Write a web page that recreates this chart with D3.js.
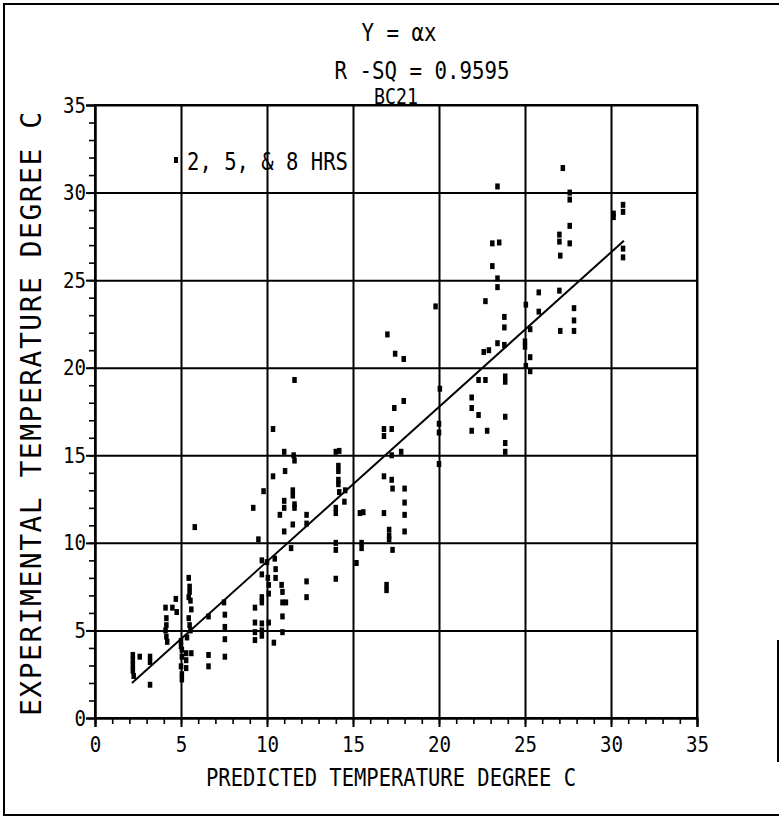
<!DOCTYPE html>
<html>
<head>
<meta charset="utf-8">
<script src="https://cdn.jsdelivr.net/npm/d3@7"></script>
<style>
  html, body { margin: 0; padding: 0; background: #fff; }
  svg { display: block; }
  text { font-family: "DejaVu Sans Mono", monospace; fill: #000; }
</style>
</head>
<body>
<svg id="chart" width="781" height="817"></svg>
<script>
// ---- data ----
const predicted = [
  2.2,2.2,2.2,2.2,2.25,2.6,3.2,3.2,3.2,
  4.1,4.15,4.15,4.1,4.15,4.2,4.5,4.7,4.75,
  5.0,5.0,5.05,5.05,5.0,5.05,5.05,5.3,5.3,5.3,5.35,5.45,5.5,5.5,5.45,5.55,5.6,5.45,5.5,5.55,5.6,5.8,
  6.6,6.6,6.6,7.5,7.55,7.55,7.55,7.55,
  9.2,9.5,9.8,9.3,9.3,9.3,9.3,9.7,9.7,9.7,9.7,9.7,9.7,9.7,10.0,10.05,10.1,10.1,10.1,10.35,10.35,10.45,10.5,10.5,10.4,10.85,10.9,10.9,10.9,10.9,11.1,10.75,
  11.0,11.05,11.0,11.0,11.0,11.55,11.6,11.5,11.5,11.6,11.6,11.5,11.4,11.6,12.3,12.3,12.3,12.3,
  14.0,14.2,14.15,14.15,14.15,14.15,14.2,14.55,14.5,14.0,14.0,14.0,14.0,14.0,15.4,15.6,15.5,15.5,15.2,
  16.8,16.8,17.25,17.25,17.8,16.8,17.25,17.3,18.0,18.0,18.0,16.8,18.0,17.1,17.1,17.1,17.3,16.95,16.95,17.0,17.45,17.95,17.4,17.95,
  19.8,20.05,20.0,20.0,20.0,
  21.9,21.9,22.3,21.9,22.8,22.3,22.7,22.6,22.9,22.7,23.1,23.1,23.5,23.4,23.4,23.4,23.4,23.8,23.8,23.8,23.85,23.85,23.85,23.85,23.85,
  25.05,25.0,25.0,25.05,25.3,25.3,25.3,25.8,25.8,
  27.2,27.6,27.6,27.6,27.0,27.0,27.6,27.05,27.0,27.05,27.85,27.85,27.85,
  30.15,30.15,30.7,30.7,30.7,30.7
];
const experimental = [
  3.6,3.3,3.0,2.7,2.4,3.5,3.5,3.2,1.9,
  6.3,5.7,5.3,5.0,4.65,4.35,6.3,6.8,6.05,
  4.4,4.1,3.9,3.5,2.95,2.5,2.2,3.7,3.3,2.85,4.6,8.0,7.5,7.2,6.9,6.7,6.2,5.7,5.3,5.0,3.7,10.9,
  5.8,3.6,2.95,6.6,5.9,5.2,4.5,3.5,
  12.0,10.2,12.95,6.3,5.45,4.9,4.45,9.0,8.2,6.9,6.6,5.4,5.0,4.7,8.9,8.0,7.6,7.1,5.45,16.5,13.8,9.1,8.5,8.0,4.3,7.6,7.2,6.6,5.8,4.9,6.6,11.6,
  15.2,14.1,12.4,12.0,10.65,15.0,14.7,13.0,12.7,12.2,12.0,11.05,9.7,19.3,11.6,11.1,7.8,6.9,
  15.2,15.25,14.4,14.1,13.6,13.35,12.9,13.0,12.35,12.0,11.7,10.0,9.6,7.95,11.7,11.75,10.0,9.7,8.85,
  16.5,16.1,16.5,15.0,15.2,13.8,13.6,13.1,13.1,12.3,11.6,11.7,10.65,10.75,10.4,10.2,9.6,7.6,7.3,21.9,20.8,20.5,17.7,18.1,
  23.5,18.8,16.8,16.3,14.5,
  18.3,17.7,17.3,16.4,16.4,19.3,19.3,20.9,21.0,23.8,25.8,27.1,27.15,30.35,25.1,24.6,21.4,22.9,22.3,21.3,19.5,19.2,17.2,15.7,15.2,
  23.6,21.5,21.2,20.1,22.2,20.6,19.8,24.3,23.2,
  31.4,30.0,29.6,28.1,27.6,27.2,27.1,26.4,24.4,22.1,23.4,22.7,22.1,
  28.8,28.6,29.3,28.9,26.8,26.3
];
const fitX = [2.15, 30.75];
const fitY = [2.0, 27.25];
const xTicks = [0, 5, 10, 15, 20, 25, 30, 35];
const yTicks = [0, 5, 10, 15, 20, 25, 30, 35];
const titleLines = ["Y = αx", "R -SQ = 0.9595", "BC21"];
const legendLabel = "2, 5, & 8 HRS";
const xTitle = "PREDICTED TEMPERATURE DEGREE C";
const yTitle = "EXPERIMENTAL TEMPERATURE DEGREE C";

// ---- layout ----
const svg = d3.select("#chart");
const L = 95, R = 697, T = 105, B = 718;
const x = d3.scaleLinear().domain([0, 35]).range([L, R]);
const y = d3.scaleLinear().domain([0, 35]).range([B, T]);

// outer frame
svg.append("path")
  .attr("d", "M4,816 L4,4 L779,4")
  .attr("fill", "none").attr("stroke", "#000").attr("stroke-width", 2);
svg.append("line").attr("x1", 4).attr("x2", 779).attr("y1", 815).attr("y2", 815)
  .attr("stroke", "#000").attr("stroke-width", 2);
svg.append("line").attr("x1", 778).attr("x2", 778).attr("y1", 640).attr("y2", 762)
  .attr("stroke", "#000").attr("stroke-width", 2);

// grid
const gridX = svg.append("g").attr("transform", `translate(0,${B})`)
  .call(d3.axisBottom(x).tickValues(xTicks).tickSize(-(B - T)).tickFormat(""));
const gridY = svg.append("g").attr("transform", `translate(${L},0)`)
  .call(d3.axisLeft(y).tickValues(yTicks).tickSize(-(R - L)).tickFormat(""));
[gridX, gridY].forEach(g => {
  g.select(".domain").remove();
  g.selectAll("line").attr("stroke", "#000").attr("stroke-width", 2);
});

// minor ticks
const minorVals = d3.range(0, 36, 1);
const mx = svg.append("g").attr("transform", `translate(0,${B})`)
  .call(d3.axisBottom(x).tickValues(minorVals).tickSize(6).tickFormat(""));
const my = svg.append("g").attr("transform", `translate(${L},0)`)
  .call(d3.axisLeft(y).tickValues(minorVals).tickSize(6).tickFormat(""));
[mx, my].forEach(g => {
  g.select(".domain").remove();
  g.selectAll("line").attr("stroke", "#000").attr("stroke-width", 1.6);
});

// major axes with labels
const ax = svg.append("g").attr("transform", `translate(0,${B})`)
  .call(d3.axisBottom(x).tickValues(xTicks).tickSize(9).tickPadding(9).tickFormat(d3.format("d")));
const ay = svg.append("g").attr("transform", `translate(${L},0)`)
  .call(d3.axisLeft(y).tickValues(yTicks).tickSize(9).tickPadding(0).tickFormat(d3.format("d")));
[ax, ay].forEach(g => {
  g.select(".domain").attr("stroke", "#000").attr("stroke-width", 2);
  g.selectAll("line").attr("stroke", "#000").attr("stroke-width", 2);
  g.selectAll("text")
    .style("font-family", '"DejaVu Sans Mono", monospace')
    .attr("font-size", 22).attr("fill", "#000")
    .attr("lengthAdjust", "spacingAndGlyphs")
    .attr("textLength", d => String(d).length * 11.5);
});

// plot frame
svg.append("rect").attr("x", L).attr("y", T).attr("width", R - L).attr("height", B - T)
  .attr("fill", "none").attr("stroke", "#000").attr("stroke-width", 2);

// titles
const titleSpec = [
  { cx: 399, by: 41, w: 75, fs: 24 },
  { cx: 422, by: 79, w: 175, fs: 24 },
  { cx: 396, by: 104, w: 44, fs: 21 }
];
titleLines.forEach((t, i) => {
  svg.append("text").text(t)
    .attr("x", titleSpec[i].cx).attr("y", titleSpec[i].by)
    .attr("text-anchor", "middle").attr("font-size", titleSpec[i].fs)
    .attr("lengthAdjust", "spacingAndGlyphs").attr("textLength", titleSpec[i].w);
});

// axis titles
svg.append("text").text(xTitle)
  .attr("x", 391).attr("y", 786).attr("text-anchor", "middle").attr("font-size", 24)
  .attr("lengthAdjust", "spacingAndGlyphs").attr("textLength", 370);
svg.append("text").text(yTitle)
  .attr("transform", "translate(41,414) rotate(-90)")
  .attr("text-anchor", "middle").attr("font-size", 28)
  .attr("lengthAdjust", "spacing").attr("textLength", 604);

// regression line y = a x
svg.append("line")
  .attr("x1", x(fitX[0])).attr("y1", y(fitY[0]))
  .attr("x2", x(fitX[1])).attr("y2", y(fitY[1]))
  .attr("stroke", "#000").attr("stroke-width", 2);

// points
const pts = predicted.map((p, i) => [p, experimental[i]]);
svg.append("g").selectAll("rect").data(pts).join("rect")
  .attr("x", d => x(d[0]) - 2.25)
  .attr("y", d => y(d[1]) - 3)
  .attr("width", 4.5).attr("height", 6)
  .attr("fill", "#000");

// legend
svg.append("rect").attr("x", 174).attr("y", 157).attr("width", 4).attr("height", 6).attr("fill", "#000");
svg.append("text").text(legendLabel)
  .attr("x", 187).attr("y", 170).attr("font-size", 24)
  .attr("lengthAdjust", "spacingAndGlyphs").attr("textLength", 161);
</script>
</body>
</html>
